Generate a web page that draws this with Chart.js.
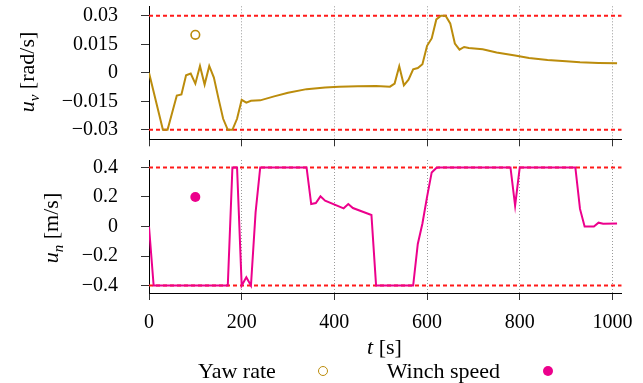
<!DOCTYPE html>
<html><head><meta charset="utf-8">
<script src="https://cdn.jsdelivr.net/npm/chart.js@4.4.1/dist/chart.umd.min.js"></script>
<style>
html,body{margin:0;padding:0;background:#fff;}
#wrap{position:relative;width:643px;height:383px;overflow:hidden;font-family:"Liberation Serif",serif;color:#000;}
canvas{position:absolute;left:0;}
.lbl{position:absolute;white-space:nowrap;font-size:22px;line-height:1;}
.ylab{transform:translate(-50%,-50%) rotate(-90deg);}
.sb{font-size:15px;font-style:italic;position:relative;top:5px;}
.mk{position:absolute;border-radius:50%;box-sizing:border-box;transform:translate(-50%,-50%);}
</style></head>
<body><div id="wrap">
<canvas id="c1" width="643" height="150" style="top:0"></canvas>
<canvas id="c2" width="643" height="233" style="top:150px"></canvas>
<div class="lbl ylab" style="left:27px;top:71.5px"><i>u</i><span class="sb">v</span> [rad/s]</div>
<div class="lbl ylab" style="left:51px;top:228px"><i>u</i><span class="sb">n</span> [m/s]</div>
<div class="lbl" style="left:384.5px;top:347px;transform:translate(-50%,-50%)"><i>t</i> [s]</div>
<div class="lbl" style="left:198px;top:371px;transform:translateY(-50%)">Yaw rate</div>
<div class="mk" style="left:322.7px;top:371px;width:10px;height:10px;border:1.8px solid #bb8c0c"></div>
<div class="lbl" style="left:386.7px;top:371px;transform:translateY(-50%)">Winch speed</div>
<div class="mk" style="left:547.7px;top:371px;width:10px;height:10px;background:#ec008c"></div>
</div>
<script>
const xTicks = [0, 200, 400, 600, 800, 1000];
const yawTicks = [-0.03, -0.015, 0, 0.015, 0.03];
const winchTicks = [-0.4, -0.2, 0, 0.2, 0.4];

const yawTime = [0, 30, 40, 60, 70, 80, 90, 100, 110, 120, 130, 140, 150, 160, 170, 180, 190, 200, 210, 220, 240, 270, 300, 340, 380, 410, 450, 490, 520, 530, 540, 550, 560, 570, 580, 590, 600, 610, 620, 630, 640, 650, 660, 670, 680, 690, 720, 750, 790, 820, 860, 900, 930, 970, 1010];
const yawRate = [0, -0.03, -0.03, -0.012, -0.0114, -0.0013, -0.0004, -0.0057, 0.0036, -0.0062, 0.0036, -0.0025, -0.0136, -0.0242, -0.03, -0.03, -0.0242, -0.0142, -0.0157, -0.0147, -0.0145, -0.0124, -0.0105, -0.0086, -0.0077, -0.0073, -0.0071, -0.0070, -0.0073, -0.0057, 0.0034, -0.0066, -0.0036, 0.0018, 0.0025, 0.0045, 0.0142, 0.0181, 0.0281, 0.03, 0.03, 0.026, 0.0154, 0.0122, 0.0136, 0.0131, 0.0124, 0.0107, 0.0091, 0.0078, 0.0068, 0.0061, 0.0055, 0.0052, 0.0050];

const winchTime = [0, 10, 170, 180, 190, 200, 210, 220, 230, 240, 340, 350, 360, 370, 380, 420, 430, 440, 480, 490, 570, 580, 590, 600, 610, 620, 625, 780, 790, 800, 920, 930, 940, 960, 970, 980, 1010];
const winchSpeed = [0, -0.4, -0.4, 0.4, 0.4, -0.4, -0.344, -0.4, 0.096, 0.4, 0.4, 0.152, 0.159, 0.204, 0.175, 0.123, 0.152, 0.125, 0.078, -0.4, -0.4, -0.118, 0.02, 0.2, 0.366, 0.396, 0.4, 0.4, 0.141, 0.4, 0.4, 0.119, 0, 0, 0.026, 0.019, 0.021];

const yawLimits = [0.03, -0.03];
const winchLimits = [0.4, -0.4];
const markerTime = [100];
const yawMarker = [0.02];
const winchMarker = [0.2];

const xMin = 0, xMax = 1020;
const yawMin = -0.035, yawMax = 0.035;
const winchMin = -0.45, winchMax = 0.45;

const YAW_COLOR = '#bb8c0c';
const WINCH_COLOR = '#ec008c';
const FONT = {family: '"Liberation Serif", serif', size: 20};

function fmt(v) { return String(v).replace('-', '\u2212'); }
function pts(xs, ys) { return xs.map((x, i) => ({x: x, y: ys[i]})); }

function limitSets(lims) {
  return lims.map(l => ({
    data: [{x: xMin, y: l}, {x: xMax, y: l}],
    borderColor: '#ff1a1a', borderWidth: 2, borderDash: [4, 3], borderCapStyle: 'butt',
    pointRadius: 0, fill: false, order: 5
  }));
}

function makeChart(id, opts) {
  return new Chart(document.getElementById(id), {
    type: 'line',
    data: {datasets: [
      {data: pts(opts.t, opts.v), borderColor: opts.color, borderWidth: 2, pointRadius: 0, fill: false, tension: 0, order: 1},
      {data: pts(markerTime, opts.marker), showLine: false, pointRadius: opts.mRadius,
       pointBorderWidth: opts.mBorder, pointBorderColor: opts.color,
       pointBackgroundColor: opts.mFill, order: 0},
      ...limitSets(opts.limits)
    ]},
    options: {
      responsive: false, animation: false, events: [],
      layout: {padding: {left: 0, right: 21.3, top: opts.padTop, bottom: 0}},
      plugins: {legend: {display: false}, tooltip: {enabled: false}},
      scales: {
        x: {
          type: 'linear', min: xMin, max: xMax,
          afterBuildTicks: s => { s.ticks = xTicks.map(v => ({value: v})); },
          afterFit: s => { s.height = opts.xHeight; s.paddingLeft = 0; s.paddingRight = 0; },
          grid: {drawOnChartArea: true, color: '#9a9a9a', lineWidth: 1, drawTicks: true,
                 tickLength: 7, tickColor: '#333', tickWidth: 1, tickBorderDash: []},
          border: {display: true, color: '#000', width: 1, dash: [1, 2]},
          ticks: {display: opts.showX, font: FONT, color: '#000', padding: 11,
                  maxRotation: 0, autoSkip: false, callback: v => fmt(v)}
        },
        y: {
          type: 'linear', min: opts.yMin, max: opts.yMax,
          afterBuildTicks: s => { s.ticks = opts.yTicks.map(v => ({value: v})); },
          afterFit: s => { s.width = 149; s.paddingTop = 0; s.paddingBottom = 0; },
          grid: {drawOnChartArea: false, drawTicks: true, tickLength: 8, tickColor: '#333', tickWidth: 1, tickBorderDash: []},
          border: {display: true, color: '#000', width: 1},
          ticks: {font: FONT, color: '#000', padding: 23, autoSkip: false, callback: v => fmt(v)}
        }
      }
    }
  });
}

makeChart('c1', {t: yawTime, v: yawRate, color: YAW_COLOR, marker: yawMarker, mRadius: 4.3, mBorder: 1.6,
  mFill: 'rgba(255,255,255,0)', limits: yawLimits, padTop: 6.3, xHeight: 10.7, showX: false,
  yMin: yawMin, yMax: yawMax, yTicks: yawTicks});
makeChart('c2', {t: winchTime, v: winchSpeed, color: WINCH_COLOR, marker: winchMarker, mRadius: 5, mBorder: 0,
  mFill: WINCH_COLOR, limits: winchLimits, padTop: 10, xHeight: 90, showX: true,
  yMin: winchMin, yMax: winchMax, yTicks: winchTicks});
</script>
</body></html>
